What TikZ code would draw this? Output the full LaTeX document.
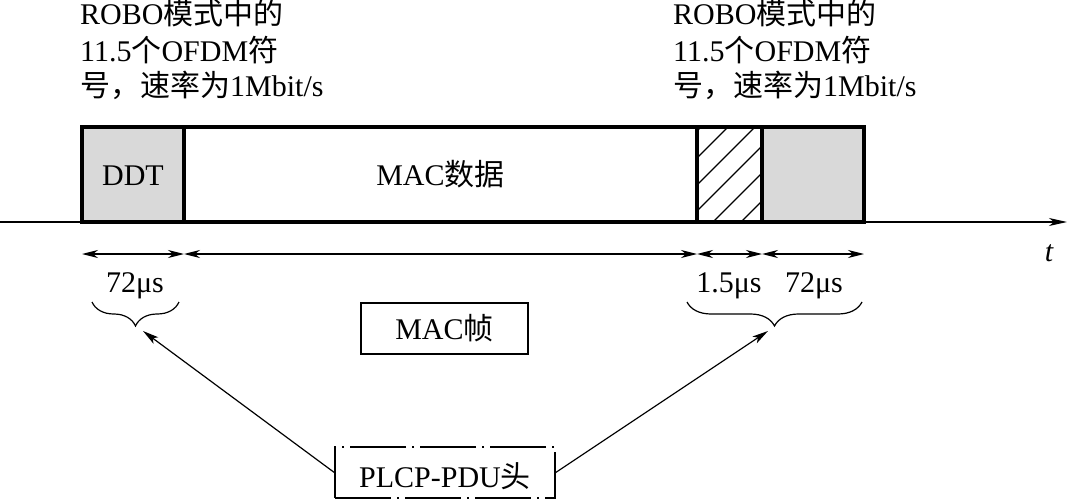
\documentclass[tikz,border=0pt]{standalone}
\usepackage{fontspec}
\setmainfont{Liberation Serif}
\newfontfamily\cjk{Noto Sans CJK SC}
\newcommand\zh[1]{{\cjk #1}}
\usetikzlibrary{arrows.meta,decorations.pathreplacing}
\definecolor{shade}{HTML}{D9D9D9}
\begin{document}
\begin{tikzpicture}[x=1pt,y=-1pt,
  every node/.style={font=\fontsize{30}{36}\selectfont, inner sep=0pt},
  field/.style={draw, line width=3.5pt, minimum height=95pt, anchor=north west,
    outer sep=0pt, text height=21pt, text depth=0pt},
  dim/.style={line width=1.3pt, {Stealth[length=16pt,width=8pt,inset=5pt]}-{Stealth[length=16pt,width=8pt,inset=5pt]}},
  axisline/.style={line width=1.5pt, -{Stealth[length=18pt,width=8pt,inset=5pt]}},
  pointer/.style={line width=1.2pt, -{Stealth[length=16pt,width=8pt,inset=4pt]}},
  lbl/.style={anchor=base},
  brc/.style={decorate, decoration={brace, mirror, amplitude=24pt}, line width=1.2pt},
  toptext/.style={anchor=base west, text height=21pt, text depth=5pt},
]
\useasboundingbox (0,0) rectangle (1068,500);

% time axis
\coordinate (ax0) at (0,222);
\coordinate (ax1) at (1067,222);
\draw[axisline] (ax0) -- (ax1);
\node (t) at (1049,253) {\itshape t};

% frame fields
\node[field, fill=shade, minimum width=102pt] (ddt) at (82,127) {DDT};
\node[field, minimum width=513pt] (mac) at (184,127) {MAC\zh{数据}};
\node[field, minimum width=65pt] (pad) at (697,127) {};
\node[field, fill=shade, minimum width=102pt] (tail) at (762,127) {};

% hatching
\begin{scope}
  \clip (pad.south west) rectangle (pad.north east);
  \foreach \c in {828,855,882,908,935,963} {
    \draw[line width=1.3pt] (\c-110,110) -- (\c-240,240);
  }
\end{scope}
\draw[line width=3.5pt] (pad.south west) rectangle (pad.north east);

% dimension lines
\draw[dim] ([yshift=-32pt]ddt.south west) -- ([yshift=-32pt]ddt.south east);
\draw[dim] ([yshift=-32pt]mac.south west) -- ([yshift=-32pt]mac.south east);
\draw[dim] ([yshift=-32pt]pad.south west) -- ([yshift=-32pt]pad.south east);
\draw[dim] ([yshift=-32pt]tail.south west) -- ([yshift=-32pt]tail.south east);

\node[lbl] (d1) at (135,292) {72μs};
\node[lbl] (d2) at (729,292) {1.5μs};
\node[lbl] (d3) at (814,292) {72μs};

% braces
\coordinate (lb0) at (92,302);
\coordinate (lb1) at (179,302);
\coordinate (rb0) at (687,302);
\coordinate (rb1) at (862,302);
\draw[brc] (lb0) -- (lb1);
\draw[brc] (rb0) -- (rb1);
\coordinate (lbt) at (143,331);
\coordinate (rbt) at (768,331);

% MAC frame label
\node[draw, line width=1.6pt, minimum width=167pt, minimum height=51pt,
  text height=21pt, text depth=0pt] (macf) at (444.5,328.5) {MAC\zh{帧}};

% PLCP-PDU header
\node[draw, line width=1.4pt, dash pattern=on 56pt off 6pt on 2pt off 6pt,
  minimum width=220pt, minimum height=51pt, text height=29pt, text depth=0pt]
  (plcp) at (445,472.5) {PLCP-PDU\zh{头}};

\draw[pointer] (plcp.west) -- (lbt);
\draw[pointer] (plcp.east) -- (rbt);

% top annotations
\node[toptext] (a1) at (80,25) {ROBO\zh{模式中的}};
\node[toptext] (a2) at (80,62) {11.5\zh{个}OFDM\zh{符}};
\node[toptext] (a3) at (80,97) {\zh{号，速率为}1Mbit/s};
\node[toptext] (b1) at (673,25) {ROBO\zh{模式中的}};
\node[toptext] (b2) at (673,62) {11.5\zh{个}OFDM\zh{符}};
\node[toptext] (b3) at (673,97) {\zh{号，速率为}1Mbit/s};
\end{tikzpicture}
\end{document}
